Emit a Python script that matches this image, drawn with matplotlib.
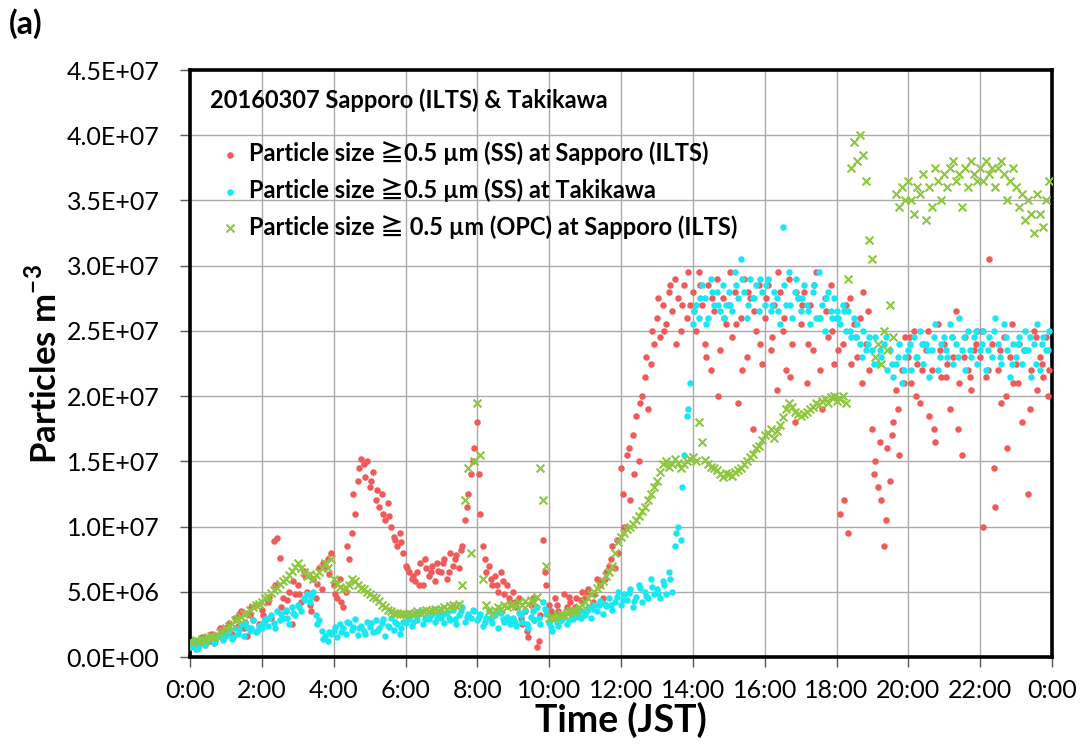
import numpy as np
import matplotlib.pyplot as plt
from matplotlib.ticker import FuncFormatter

# values in 1E6 particles m-3, one row per hour, 5-minute steps
sapporo_ss = [
    0.8, 1.2, 0.6, 1.0, 1.5, 0.9, 1.3, 1.8, 1.1, 1.6, 2.2, 1.4,
    2.0, 2.6, 1.8, 3.0, 2.4, 3.5, 2.2, 1.6, 3.2, 2.8, 4.0, 2.5,
    3.6, 2.8, 4.2, 3.0, 8.9, 9.1, 7.6, 4.5, 3.5, 5.0, 2.5, 4.8,
    5.5, 4.2, 6.6, 5.0, 4.0, 6.0, 4.5, 6.8, 5.2, 7.0, 7.5, 8.0,
    5.5, 4.5, 6.0, 3.8, 5.0, 7.5, 9.5, 11.0, 13.5, 15.2, 14.8, 15.0,
    13.0, 14.2, 12.0, 11.5, 12.5, 10.5, 11.8, 10.0, 9.2, 8.5, 9.5, 8.0,
    7.0, 6.5, 6.0, 5.8, 6.5, 7.2, 5.5, 6.8, 6.2, 7.0, 5.8, 6.6,
    6.5, 7.5, 6.0, 8.0, 7.0, 7.8, 6.8, 8.5, 10.5, 12.5, 14.0, 16.0,
    18.0, 11.0, 8.5, 6.5, 7.0, 5.5, 6.2, 5.0, 6.5, 4.8, 5.5, 4.2,
    5.0, 3.8, 4.5, 2.5, 3.5, 1.5, 4.0, 2.8, 0.8, 3.2, 9.0, 5.5,
    4.0, 3.2, 4.5, 3.5, 2.8, 4.8, 3.8, 4.2, 3.0, 4.5, 3.6, 5.0,
    4.5, 5.2, 3.8, 4.8, 6.0, 5.5, 4.5, 6.5, 7.0, 8.5, 6.8, 8.0,
    14.5, 10.0, 15.5, 12.0, 17.0, 18.5, 15.0, 20.0, 21.5, 19.0, 22.5, 24.0,
    26.0, 24.5, 27.0, 25.5, 28.0, 26.5, 29.0, 27.5, 25.0, 28.5, 26.0, 27.0,
    28.0, 25.0, 29.5, 27.0, 24.0, 28.5, 22.0, 26.5, 29.0, 23.5, 27.5, 25.5,
    27.0, 24.5, 28.0, 19.5, 26.0, 29.0, 23.0, 27.5, 17.5, 25.0, 28.5, 22.5,
    26.0, 28.5, 23.5, 27.0, 20.5, 28.0, 25.0, 22.0, 29.0, 24.0, 18.0, 27.5,
    25.5, 28.0, 21.0, 27.0, 23.5, 29.5, 26.0, 19.0, 27.5, 24.5, 28.5, 22.5,
    26.0, 11.0, 24.0, 27.0, 9.5, 22.5, 25.5, 23.0, 26.0, 28.0, 24.0, 22.0,
    17.5, 15.0, 13.0, 12.0, 8.5, 16.0, 13.5, 18.0, 20.5, 15.5, 22.0, 24.5,
    23.0, 21.0, 25.0, 22.5, 19.5, 24.0, 23.5, 18.5, 22.0, 16.5, 25.5, 21.5,
    24.0, 22.5, 19.0, 23.0, 26.5, 21.0, 15.5, 24.5, 22.0, 20.5, 23.5, 25.0,
    23.0, 10.0, 21.5, 30.5, 24.0, 11.5, 22.0, 19.5, 24.5, 16.0, 23.0, 21.0,
    22.5, 24.0, 18.0, 23.5, 12.5, 22.0, 25.0, 20.5, 23.0, 21.5, 24.5, 22.0,
]
# extra readings in between, 10-minute steps (offset 2.5 min)
sapporo_ss_b = [
    1.0, 0.7, 1.4, 1.2, 1.7, 1.9,
    2.3, 1.5, 3.3, 2.7, 3.8, 2.0,
    3.2, 4.6, 5.5, 3.8, 4.4, 5.8,
    4.8, 6.2, 3.5, 5.6, 7.2, 6.4,
    4.8, 4.2, 8.5, 12.5, 14.5, 13.8,
    13.5, 12.8, 11.0, 10.8, 9.0, 8.8,
    6.8, 6.2, 5.5, 7.5, 6.5, 7.2,
    7.2, 6.5, 7.5, 8.2, 11.5, 15.0,
    14.0, 7.5, 6.0, 5.5, 5.8, 4.5,
    4.2, 3.0, 2.0, 4.5, 1.2, 6.5,
    3.5, 4.0, 3.2, 4.6, 3.8, 4.4,
    5.0, 4.2, 5.8, 6.0, 7.5, 9.0,
    12.5, 16.0, 14.0, 19.5, 23.0, 25.0,
    27.5, 25.0, 28.5, 24.0, 27.0, 29.5,
    26.5, 28.5, 23.0, 27.5, 20.0, 26.0,
    29.5, 25.5, 22.0, 28.0, 26.5, 24.0,
    27.5, 24.5, 29.5, 26.0, 21.5, 28.0,
    27.0, 24.0, 28.5, 22.0, 26.5, 25.0,
    23.5, 12.0, 27.5, 24.5, 21.0, 26.5,
    14.0, 16.5, 10.5, 17.0, 19.0, 21.0,
    24.5, 20.0, 22.0, 25.0, 17.5, 23.5,
    21.5, 24.5, 17.5, 23.0, 21.5, 24.0,
    25.0, 22.0, 14.5, 23.5, 20.0, 25.5,
    21.0, 23.5, 19.0, 24.5, 22.5, 20.0,
]

takikawa_ss = [
    0.8, 1.2, 0.6, 1.0, 1.4, 0.9, 1.3, 1.6, 1.1, 1.5, 1.8, 1.3,
    1.6, 2.0, 1.4, 2.2, 1.8, 2.5, 1.6, 2.3, 2.0, 2.8, 1.9, 2.4,
    2.2, 2.9, 2.4, 3.2, 2.6, 3.5, 2.8, 3.0, 3.6, 2.5, 3.8, 3.2,
    4.0, 3.5, 4.5, 4.8, 4.2, 5.0, 3.2, 2.8, 2.0, 1.6, 1.2, 1.8,
    2.0, 1.5, 2.5, 2.2, 1.8, 2.6, 2.1, 2.9, 1.7, 2.4, 2.0, 2.7,
    2.3, 1.9, 2.8, 2.2, 2.6, 1.6, 2.4, 3.0, 2.1, 2.5, 1.8, 2.7,
    2.6, 3.0, 2.4, 3.2, 2.8, 3.5, 2.5, 3.1, 2.9, 3.4, 2.7, 3.3,
    3.0, 2.6, 3.4, 2.8, 3.6, 2.5, 3.2, 3.8, 2.7, 3.3, 3.0, 3.5,
    2.8, 3.3, 2.4, 3.0, 3.5, 2.6, 3.2, 2.2, 3.4, 2.7, 3.1, 2.5,
    3.0, 2.4, 3.4, 2.7, 3.6, 2.2, 3.1, 2.8, 3.8, 2.5, 4.2, 3.3,
    2.6, 2.0, 3.0, 2.4, 2.8, 3.2, 2.5, 3.4, 2.9, 3.6, 3.1, 3.5,
    3.2, 3.8, 3.0, 4.0, 3.5, 4.3, 3.3, 3.9, 4.5, 3.6, 4.2, 5.0,
    4.0, 4.8, 4.4, 5.2, 3.8, 4.6, 5.5, 4.2, 5.0, 4.5, 6.0, 4.8,
    5.2, 4.5, 5.8, 4.8, 6.5, 5.0, 8.5, 10.0, 9.0, 15.5, 18.5, 21.0,
    25.5, 27.0, 26.0, 28.5, 27.5, 26.0, 29.0, 27.0, 28.0, 26.5, 28.5, 27.0,
    28.0, 26.5, 29.5, 27.5, 30.5, 28.0, 26.0, 29.0, 27.5, 28.5, 26.5, 28.0,
    27.0, 29.0, 26.5, 28.0, 27.5, 25.5, 33.0, 27.0, 29.5, 26.0, 28.0, 27.5,
    26.5, 28.5, 27.0, 25.5, 28.0, 26.0, 29.5, 27.0, 25.0, 28.0, 26.5, 27.5,
    26.5, 25.5, 27.0, 25.0, 26.5, 24.5, 26.0, 25.5, 24.0, 25.0, 23.5, 24.5,
    23.5, 24.5, 22.5, 23.0, 24.0, 22.0, 23.5, 21.5, 22.5, 24.0, 21.0, 23.0,
    23.5, 22.0, 24.5, 23.0, 25.0, 22.5, 24.0, 21.5, 23.5, 25.5, 22.0, 24.0,
    24.5, 23.0, 25.5, 22.5, 24.0, 26.0, 23.5, 22.0, 25.0, 23.0, 24.5, 22.5,
    23.5, 25.0, 22.0, 24.5, 23.0, 26.0, 24.0, 22.5, 25.5, 23.5, 21.5, 24.0,
    23.0, 24.5, 22.5, 25.0, 23.5, 21.5, 24.0, 25.5, 22.0, 24.5, 23.5, 25.0,
]
takikawa_ss_b = [
    1.0, 0.7, 1.2, 1.5, 1.2, 1.6,
    1.8, 1.5, 2.1, 2.6, 2.2, 2.0,
    2.6, 3.0, 2.2, 3.3, 3.0, 3.4,
    3.8, 4.4, 4.6, 2.5, 1.4, 1.9,
    2.3, 1.9, 2.7, 2.3, 2.2, 1.8,
    2.6, 2.0, 2.9, 2.3, 2.7, 2.2,
    2.8, 2.7, 3.3, 2.9, 3.2, 3.0,
    3.3, 3.0, 2.9, 3.5, 3.1, 3.6,
    3.1, 2.7, 2.9, 3.6, 2.9, 2.8,
    2.7, 3.2, 2.5, 3.5, 3.0, 3.7,
    2.3, 2.7, 3.0, 2.8, 3.3, 3.0,
    3.5, 3.7, 4.0, 4.1, 4.0, 4.6,
    4.4, 4.9, 4.3, 5.3, 4.7, 5.4,
    4.9, 5.5, 6.0, 9.5, 13.0, 19.0,
    26.5, 27.5, 25.5, 28.0, 27.0, 26.0,
    27.0, 28.5, 29.0, 27.0, 27.5, 29.0,
    28.5, 27.0, 26.5, 28.5, 27.0, 29.0,
    27.5, 26.5, 28.5, 26.0, 27.5, 26.0,
    26.0, 26.5, 25.0, 24.5, 23.0, 24.0,
    22.5, 23.5, 24.5, 22.5, 23.0, 22.0,
    24.0, 23.0, 24.0, 23.5, 24.5, 23.0,
    23.5, 24.5, 23.0, 24.5, 23.5, 25.0,
    24.0, 23.5, 25.0, 23.0, 24.5, 22.5,
    24.0, 23.5, 24.5, 22.5, 24.0, 23.5,
]

sapporo_opc = [
    1.2, 1.1, 1.3, 1.2, 1.4, 1.3, 1.5, 1.6, 1.5, 1.7, 1.9, 2.0,
    2.2, 2.4, 2.5, 2.8, 2.9, 3.1, 3.3, 3.4, 3.6, 3.8, 4.0, 4.1,
    4.2, 4.5, 4.6, 4.9, 5.1, 5.3, 5.6, 5.8, 6.0, 6.3, 6.6, 6.9,
    7.2, 6.8, 6.5, 6.2, 6.4, 6.0, 6.3, 6.5, 6.8, 7.2, 6.8, 7.5,
    6.0, 5.6, 5.4, 5.2, 5.3, 5.5, 6.0, 5.8, 5.5, 5.3, 5.2, 5.0,
    4.8, 4.6, 4.5, 4.3, 4.0, 3.8, 3.6, 3.5, 3.4, 3.4, 3.3, 3.3,
    3.3, 3.4, 3.3, 3.4, 3.5, 3.4, 3.5, 3.6, 3.5, 3.6, 3.7, 3.6,
    3.7, 3.8, 3.7, 3.9, 4.0, 3.9, 4.1, 5.5, 12.0, 14.5, 8.0, 15.0,
    19.5, 15.5, 6.0, 4.0, 3.5, 3.3, 3.6, 3.8, 3.7, 4.0, 3.8, 4.0,
    4.1, 3.9, 4.2, 4.0, 4.3, 4.1, 4.4, 4.2, 4.6, 14.5, 12.0, 7.0,
    3.0, 3.1, 3.0, 3.2, 3.3, 3.2, 3.4, 3.5, 3.6, 3.5, 3.8, 4.0,
    4.2, 4.5, 4.8, 5.0, 5.3, 5.5, 5.8, 6.2, 6.5, 7.0, 8.0, 8.8,
    9.2, 9.5, 9.8, 10.0, 10.2, 10.5, 10.8, 11.2, 11.5, 12.0, 12.5, 13.0,
    13.5, 14.2, 14.8, 15.0, 14.6, 14.8, 15.2, 14.9, 14.5, 14.8, 15.0, 15.2,
    15.3, 15.0, 18.0, 16.5, 15.1, 14.8, 14.6, 14.5, 14.3, 14.0, 13.8, 14.1,
    14.0, 13.9, 14.2, 14.3, 14.5, 14.8, 15.0, 15.3, 15.6, 16.0, 16.2, 16.6,
    17.0, 17.2, 17.5, 16.8, 17.3, 17.8, 18.4, 19.0, 19.5, 19.2, 18.8, 18.6,
    18.5, 18.6, 18.8, 19.0, 19.2, 19.5, 19.3, 19.6, 19.8, 19.5, 19.9, 20.0,
    19.6, 19.8, 20.0, 19.5, 29.0, 37.5, 39.5, 38.0, 40.0, 38.5, 36.5, 32.0,
    30.5, 23.0, 24.0, 22.5, 25.0, 23.5, 27.0, 24.5, 35.5, 34.5, 36.0, 35.0,
    36.5, 35.0, 34.0, 36.0, 35.5, 37.0, 33.5, 36.0, 34.5, 37.5, 36.5, 35.0,
    37.0, 36.0, 37.5, 38.0, 36.5, 37.0, 34.5, 37.5, 36.0, 38.0, 37.0, 36.5,
    37.5, 36.5, 38.0, 37.0, 37.5, 36.0, 37.5, 38.0, 37.0, 35.0, 36.5, 37.5,
    36.0, 34.5, 35.5, 33.5, 35.0, 34.0, 32.5, 35.5, 34.0, 33.0, 35.0, 36.5,
]

hours = np.arange(len(sapporo_ss)) / 12.0
hours_b = (np.arange(len(sapporo_ss_b)) * 10 + 2.5) / 60.0
xtick_hours = list(range(0, 25, 2))
xtick_labels = ['%d:00' % (h % 24) for h in xtick_hours]

red = '#F05A5A'
cyan = '#19E8F2'
green = '#8DC63F'

fam = ['Lato', 'Noto Sans CJK JP', 'DejaVu Sans']
plt.rcParams['font.family'] = fam
plt.rcParams['mathtext.fontset'] = 'custom'
plt.rcParams['mathtext.rm'] = 'Lato'
plt.rcParams['mathtext.bf'] = 'Lato:bold'

fig = plt.figure(figsize=(10.84, 7.49), dpi=100)
ax = fig.add_axes([0.1753, 0.1228, 0.7952, 0.7837])

ax.scatter(hours, np.array(sapporo_ss) * 1e6, s=22, marker='o', color=red,
           linewidths=0, label='Particle size ≧0.5 µm (SS) at Sapporo (ILTS)', zorder=3)
ax.scatter(hours_b, np.array(sapporo_ss_b) * 1e6, s=22, marker='o', color=red,
           linewidths=0, zorder=3)
ax.scatter(hours, np.array(takikawa_ss) * 1e6, s=22, marker='o', color=cyan,
           linewidths=0, label='Particle size ≧0.5 µm (SS) at Takikawa', zorder=3)
ax.scatter(hours_b, np.array(takikawa_ss_b) * 1e6, s=22, marker='o', color=cyan,
           linewidths=0, zorder=3)
ax.scatter(hours, np.array(sapporo_opc) * 1e6, s=32, marker='x', color=green,
           linewidths=1.5, label='Particle size ≧ 0.5 µm (OPC) at Sapporo (ILTS)', zorder=3)

ax.set_xlim(0, 24)
ax.set_ylim(0, 4.5e7)
ax.set_xticks(xtick_hours)
ax.set_xticklabels(xtick_labels)
ax.set_yticks(np.arange(0, 4.51e7, 5e6))
ax.yaxis.set_major_formatter(FuncFormatter(lambda v, p: '%.1E' % v))
ax.tick_params(axis='both', labelsize=18, direction='out', length=7, width=1, color='#555555')
ax.tick_params(axis='y', pad=15)
ax.tick_params(axis='x', pad=9)
ax.grid(True, color='#AAAAAA', linewidth=1)
ax.set_axisbelow(True)
for sp in ax.spines.values():
    sp.set_linewidth(2.6)
    sp.set_color('black')

ax.set_xlabel('Time (JST)', fontsize=27, fontweight='bold', labelpad=0)
ax.set_ylabel('Particles m$^{\\mathbf{{-}3}}$', fontsize=25, fontweight='bold', labelpad=3)

ax.text(0.023, 0.949, '20160307 Sapporo (ILTS) & Takikawa', transform=ax.transAxes,
        fontsize=17, fontweight='bold', va='center', ha='left')
leg = ax.legend(loc='upper left', bbox_to_anchor=(0.025, 0.895), frameon=False,
                handlelength=0.8, handletextpad=0.4, labelspacing=0.55,
                borderaxespad=0, prop={'family': fam, 'size': 17, 'weight': 'bold'})

fig.text(0.008, 0.955, '(a)', fontsize=23, fontweight='bold')

fig.savefig('out.png', dpi=100)
